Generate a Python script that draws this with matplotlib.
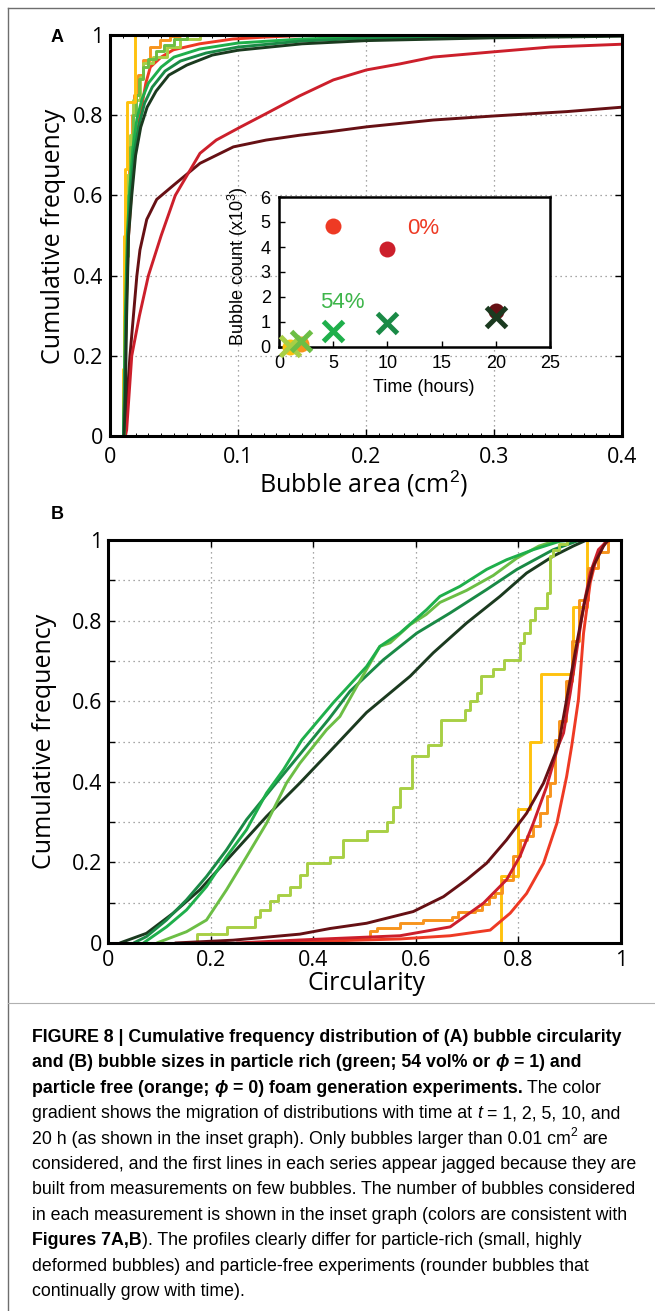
import matplotlib
matplotlib.use('Agg')
import matplotlib.pyplot as plt
from matplotlib.lines import Line2D
from matplotlib import font_manager

# ---------------- data ----------------
free_colors = ['#FFC20E', '#F7941D', '#EE3A24', '#CC1F2B', '#661014']   # 0 %: t = 1, 2, 5, 10, 20 h
rich_colors = ['#A8CF45', '#6CBE45', '#1FAF4B', '#1A8A46', '#1B3A1F']   # 54 %: t = 1, 2, 5, 10, 20 h

# Panel A : bubble area (cm2) -> cumulative frequency
A_free_t1_x = [0.0102, 0.0102, 0.0108, 0.0113, 0.0118, 0.0131, 0.0195]
A_free_t1_y = [0.0, 0.167, 0.333, 0.5, 0.667, 0.833, 1.0]
A_free_t2_x = [0.0105, 0.011, 0.012, 0.0135, 0.015, 0.017, 0.019, 0.022, 0.026, 0.031, 0.039, 0.047, 0.055]
A_free_t2_y = [0.0, 0.2, 0.45, 0.62, 0.72, 0.8, 0.85, 0.9, 0.938, 0.971, 0.988, 0.997, 1.0]
A_free_t5_x = [0.0105, 0.0115, 0.013, 0.0145, 0.017, 0.02, 0.023, 0.028, 0.0315, 0.04, 0.0495, 0.07, 0.096, 0.122, 0.16]
A_free_t5_y = [0.0, 0.15, 0.35, 0.5, 0.62, 0.72, 0.79, 0.88, 0.92, 0.945, 0.963, 0.978, 0.99, 0.995, 1.0]
A_free_t10_x = [0.012, 0.013, 0.017, 0.023, 0.030, 0.040, 0.051, 0.0703, 0.083, 0.1016, 0.122, 0.148, 0.1745,
                0.2005, 0.2266, 0.2526, 0.2995, 0.344, 0.40]
A_free_t10_y = [0.0, 0.015, 0.2, 0.3, 0.4, 0.5, 0.6, 0.705, 0.738, 0.77, 0.804, 0.848, 0.888,
                0.913, 0.928, 0.945, 0.958, 0.97, 0.977]
A_free_t20_x = [0.011, 0.0117, 0.0156, 0.021, 0.0234, 0.0287, 0.0365, 0.0495, 0.0703, 0.0964, 0.122, 0.148,
                0.172, 0.2005, 0.2526, 0.2995, 0.357, 0.40]
A_free_t20_y = [0.0, 0.015, 0.2, 0.4, 0.464, 0.54, 0.59, 0.625, 0.68, 0.721, 0.738, 0.75,
                0.759, 0.771, 0.788, 0.798, 0.809, 0.82]
A_rich_t1_x = [0.0102, 0.0105, 0.011, 0.012, 0.0135, 0.0155, 0.0182, 0.0234, 0.026, 0.0339, 0.0443, 0.0547, 0.0703]
A_rich_t1_y = [0.0, 0.1, 0.3, 0.5, 0.65, 0.75, 0.838, 0.896, 0.929, 0.946, 0.971, 0.989, 1.0]
A_rich_t2_x = [0.0105, 0.011, 0.0115, 0.0125, 0.014, 0.016, 0.018, 0.020, 0.023, 0.026, 0.030, 0.036, 0.042, 0.05, 0.06]
A_rich_t2_y = [0.0, 0.15, 0.3, 0.45, 0.6, 0.72, 0.8, 0.85, 0.89, 0.92, 0.94, 0.96, 0.975, 0.99, 1.0]
A_rich_t5_x = [0.0105, 0.011, 0.012, 0.0135, 0.0155, 0.018, 0.021, 0.025, 0.03, 0.04, 0.05, 0.07, 0.1, 0.15, 0.2, 0.3, 0.35]
A_rich_t5_y = [0.0, 0.1, 0.3, 0.5, 0.62, 0.72, 0.79, 0.84, 0.88, 0.92, 0.945, 0.965, 0.98, 0.99, 0.995, 0.999, 1.0]
A_rich_t10_x = [0.0105, 0.0115, 0.0125, 0.014, 0.0165, 0.019, 0.023, 0.027, 0.033, 0.043, 0.055, 0.075, 0.1, 0.15, 0.2, 0.3, 0.4]
A_rich_t10_y = [0.0, 0.1, 0.3, 0.5, 0.62, 0.71, 0.78, 0.83, 0.87, 0.91, 0.935, 0.955, 0.97, 0.985, 0.992, 0.997, 1.0]
A_rich_t20_x = [0.011, 0.012, 0.013, 0.0145, 0.017, 0.02, 0.024, 0.029, 0.036, 0.046, 0.06, 0.08, 0.1, 0.15, 0.2, 0.3, 0.4]
A_rich_t20_y = [0.0, 0.1, 0.3, 0.5, 0.6, 0.7, 0.77, 0.82, 0.86, 0.9, 0.925, 0.95, 0.962, 0.978, 0.986, 0.993, 0.997]

# Panel B : circularity -> cumulative frequency
B_free_t1_x = [0.767, 0.767, 0.800, 0.823, 0.845, 0.906, 0.933]
B_free_t1_y = [0.0, 0.167, 0.333, 0.5, 0.667, 0.833, 1.0]
B_free_t2_x = [0.40, 0.452, 0.504, 0.511, 0.524, 0.569, 0.615, 0.670, 0.683, 0.716, 0.729, 0.742, 0.754, 0.768,
               0.790, 0.803, 0.816, 0.829, 0.842, 0.855, 0.862, 0.872, 0.88, 0.893, 0.905, 0.918, 0.935, 0.955, 0.975]
B_free_t2_y = [0.0, 0.009, 0.016, 0.029, 0.037, 0.050, 0.058, 0.065, 0.077, 0.082, 0.098, 0.115, 0.124, 0.157,
               0.215, 0.256, 0.265, 0.29, 0.323, 0.364, 0.397, 0.504, 0.55, 0.65, 0.75, 0.85, 0.93, 0.97, 1.0]
B_free_t5_x = [0.30, 0.374, 0.569, 0.667, 0.745, 0.784, 0.816, 0.849, 0.875, 0.894, 0.904, 0.917, 0.927, 0.94, 0.953, 0.969, 0.98]
B_free_t5_y = [0.0, 0.003, 0.01, 0.018, 0.032, 0.074, 0.123, 0.198, 0.297, 0.413, 0.49, 0.604, 0.769, 0.894, 0.96, 0.993, 1.0]
B_free_t10_x = [0.25, 0.374, 0.569, 0.667, 0.732, 0.777, 0.803, 0.829, 0.855, 0.878, 0.888, 0.901, 0.914, 0.927, 0.94, 0.956, 0.975]
B_free_t10_y = [0.0, 0.0075, 0.018, 0.04, 0.099, 0.157, 0.215, 0.297, 0.388, 0.49, 0.521, 0.62, 0.728, 0.836, 0.918, 0.976, 1.0]
B_free_t20_x = [0.13, 0.244, 0.374, 0.433, 0.504, 0.595, 0.654, 0.699, 0.738, 0.777, 0.816, 0.849, 0.878, 0.894,
                0.914, 0.930, 0.946, 0.966, 0.975]
B_free_t20_y = [0.0, 0.007, 0.022, 0.036, 0.049, 0.078, 0.115, 0.157, 0.198, 0.256, 0.322, 0.397, 0.49, 0.604,
                0.745, 0.852, 0.935, 0.985, 1.0]
B_rich_t1_x = [0.173, 0.173, 0.231, 0.287, 0.297, 0.316, 0.332, 0.355, 0.374, 0.387, 0.433, 0.459, 0.504, 0.543,
               0.556, 0.569, 0.592, 0.624, 0.650, 0.696, 0.706, 0.72, 0.728, 0.751, 0.771, 0.803, 0.81, 0.823,
               0.832, 0.855, 0.862, 0.868, 0.88, 0.895]
B_rich_t1_y = [0.0, 0.0216, 0.0406, 0.065, 0.082, 0.103, 0.119, 0.14, 0.169, 0.198, 0.214, 0.256, 0.277, 0.301,
               0.338, 0.384, 0.463, 0.492, 0.554, 0.579, 0.60, 0.62, 0.662, 0.681, 0.703, 0.745, 0.769, 0.802,
               0.831, 0.869, 0.96, 0.976, 0.99, 1.0]
B_rich_t2_x = [0.095, 0.153, 0.192, 0.231, 0.270, 0.309, 0.348, 0.374, 0.426, 0.452, 0.485, 0.530, 0.55, 0.589,
               0.62, 0.647, 0.699, 0.751, 0.797, 0.84, 0.87, 0.89]
B_rich_t2_y = [0.0, 0.028, 0.057, 0.132, 0.214, 0.297, 0.397, 0.446, 0.529, 0.562, 0.637, 0.736, 0.745, 0.79,
               0.815, 0.845, 0.875, 0.912, 0.955, 0.985, 0.997, 1.0]
B_rich_t5_x = [0.069, 0.114, 0.153, 0.192, 0.231, 0.270, 0.309, 0.342, 0.378, 0.439, 0.504, 0.530, 0.569, 0.621,
               0.647, 0.686, 0.738, 0.777, 0.829, 0.881, 0.91]
B_rich_t5_y = [0.0, 0.040, 0.082, 0.140, 0.214, 0.281, 0.372, 0.430, 0.504, 0.596, 0.686, 0.736, 0.769, 0.827,
               0.860, 0.885, 0.927, 0.951, 0.976, 0.997, 1.0]
B_rich_t10_x = [0.05, 0.075, 0.114, 0.153, 0.192, 0.231, 0.270, 0.322, 0.374, 0.430, 0.472, 0.537, 0.602, 0.667,
                0.738, 0.797, 0.868, 0.92]
B_rich_t10_y = [0.0, 0.016, 0.057, 0.107, 0.165, 0.231, 0.306, 0.388, 0.468, 0.555, 0.625, 0.703, 0.769, 0.819,
                0.877, 0.927, 0.976, 1.0]
B_rich_t20_x = [0.023, 0.075, 0.127, 0.179, 0.244, 0.309, 0.374, 0.433, 0.504, 0.589, 0.634, 0.699, 0.764,
                0.816, 0.868, 0.907, 0.933]
B_rich_t20_y = [0.0, 0.024, 0.074, 0.132, 0.223, 0.314, 0.397, 0.476, 0.572, 0.662, 0.72, 0.794, 0.86,
                0.918, 0.96, 0.985, 1.0]

# Inset : bubble count (x10^3) vs time (hours)
inset_time = [1, 2, 5, 10, 20]
inset_count_free = [0.006, 0.10, 4.85, 3.90, 1.45]
inset_count_rich = [0.05, 0.22, 0.65, 0.97, 1.20]

A_xticks = [0, 0.1, 0.2, 0.3, 0.4]
A_xticklabels = ['0', '0.1', '0.2', '0.3', '0.4']
A_yticks = [0, 0.2, 0.4, 0.6, 0.8, 1.0]
A_yticklabels = ['0', '0.2', '0.4', '0.6', '0.8', '1']
B_xticks = [0, 0.2, 0.4, 0.6, 0.8, 1.0]
B_xticklabels = ['0', '0.2', '0.4', '0.6', '0.8', '1']
B_yticks = [0, 0.2, 0.4, 0.6, 0.8, 1.0]
B_yticklabels = ['0', '0.2', '0.4', '0.6', '0.8', '1']
B_yminor = [0.1, 0.3, 0.5, 0.7, 0.9]
inset_xticks = [0, 5, 10, 15, 20, 25]
inset_yticks = [0, 1, 2, 3, 4, 5, 6]

caption_lines = [
    [("FIGURE 8 | Cumulative frequency distribution of (A) bubble circularity", 'b')],
    [("and (B) bubble sizes in particle rich (green; 54 vol% or ", 'b'), ("ϕ", 'bi'), (" = 1) and", 'b')],
    [("particle free (orange; ", 'b'), ("ϕ", 'bi'), (" = 0) foam generation experiments.", 'b'), (" The color", 'r')],
    [("gradient shows the migration of distributions with time at ", 'r'), ("t", 'i'), (" = 1, 2, 5, 10, and", 'r')],
    [("20 h (as shown in the inset graph). Only bubbles larger than 0.01 cm", 'r'), ("2", 's'), (" are", 'r')],
    [("considered, and the first lines in each series appear jagged because they are", 'r')],
    [("built from measurements on few bubbles. The number of bubbles considered", 'r')],
    [("in each measurement is shown in the inset graph (colors are consistent with", 'r')],
    [("Figures 7A,B", 'b'), ("). The profiles clearly differ for particle-rich (small, highly", 'r')],
    [("deformed bubbles) and particle-free experiments (rounder bubbles that", 'r')],
    [("continually grow with time).", 'r')],
]

# ---------------- style ----------------
W, H, DPI = 655, 1311, 100
avail = {f.name for f in font_manager.fontManager.ttflist}
AXF = 'Open Sans' if 'Open Sans' in avail else 'DejaVu Sans'
INF = 'Liberation Sans' if 'Liberation Sans' in avail else 'DejaVu Sans'
CAPF = 'Liberation Sans Narrow' if 'Liberation Sans Narrow' in avail else INF
plt.rcParams['font.family'] = [AXF, 'DejaVu Sans']
plt.rcParams['mathtext.fontset'] = 'custom'
plt.rcParams['mathtext.rm'] = INF
plt.rcParams['mathtext.it'] = INF + ':italic'

fig = plt.figure(figsize=(W / DPI, H / DPI), dpi=DPI)
fig.patch.set_facecolor('white')
renderer = fig.canvas.get_renderer()


def rect(l, t, r, b):
    return [l / W, 1 - b / H, (r - l) / W, (b - t) / H]


def style_axes(ax, lw=2.2):
    for s in ax.spines.values():
        s.set_linewidth(lw)
        s.set_color('black')


grid_kw = dict(color='#8a8a8a', linestyle=(0, (1, 3)), linewidth=0.9)
LW = 2.1

# ---------------- Panel A ----------------
axA = fig.add_axes(rect(110, 35, 622, 436))
style_axes(axA)
axA.set_xlim(0, 0.4)
axA.set_ylim(0, 1)
axA.set_xticks(A_xticks)
axA.set_xticklabels(A_xticklabels)
axA.set_yticks(A_yticks)
axA.set_yticklabels(A_yticklabels)
axA.set_xticks([i / 100 for i in range(41)], minor=True)
axA.tick_params(which='major', direction='in', length=5, width=1, top=True, right=True, labelsize=15.5)
axA.tick_params(which='minor', direction='in', length=2.5, width=0.7, top=True, right=False)
axA.tick_params(axis='x', pad=8)
axA.tick_params(axis='y', pad=5)
axA.grid(True, which='major', **grid_kw)
for lab in axA.get_xticklabels() + axA.get_yticklabels():
    lab.set_family([AXF, 'DejaVu Sans'])

A_series = [
    (A_free_t20_x, A_free_t20_y, free_colors[4], False),
    (A_free_t10_x, A_free_t10_y, free_colors[3], False),
    (A_free_t5_x, A_free_t5_y, free_colors[2], False),
    (A_free_t2_x, A_free_t2_y, free_colors[1], True),
    (A_rich_t1_x, A_rich_t1_y, rich_colors[0], True),
    (A_rich_t2_x, A_rich_t2_y, rich_colors[1], True),
    (A_free_t1_x, A_free_t1_y, free_colors[0], True),
    (A_rich_t5_x, A_rich_t5_y, rich_colors[2], False),
    (A_rich_t10_x, A_rich_t10_y, rich_colors[3], False),
    (A_rich_t20_x, A_rich_t20_y, rich_colors[4], False),
]
for xs, ys, c, st in A_series:
    axA.plot(xs, ys, color=c, lw=LW, drawstyle='steps-post' if st else 'default',
             solid_joinstyle='round', solid_capstyle='butt', clip_on=True)

# Inset
axI = fig.add_axes(rect(279, 197, 550, 347))
axI.set_facecolor('white')
style_axes(axI, lw=1.8)
axI.set_xlim(0, 25)
axI.set_ylim(0, 6)
axI.set_xticks(inset_xticks)
axI.set_yticks(inset_yticks)
axI.tick_params(direction='in', length=4, width=1, labelsize=13, pad=6, top=False, right=False)
for lab in axI.get_xticklabels() + axI.get_yticklabels():
    lab.set_family([INF, 'DejaVu Sans'])
for t, v, c in zip(inset_time, inset_count_free, free_colors):
    axI.plot([t], [v], 'o', color=c, markersize=11.5, markeredgewidth=0, clip_on=False, zorder=3)
for t, v, c in zip(inset_time, inset_count_rich, rich_colors):
    axI.plot([t], [v], 'x', color=c, markersize=14, markeredgewidth=3.6, clip_on=False, zorder=4)
axI.text(13.3, 4.76, '0%', color='#EE3A24', fontsize=16, family=INF, ha='center', va='center')
axI.text(5.8, 1.76, '54%', color='#3DB54A', fontsize=16, family=INF, ha='center', va='center')
fig.text(424 / W, 1 - 387 / H, 'Time (hours)', fontsize=13, family=INF, ha='center', va='center')
fig.text(238 / W, 1 - 266 / H, 'Bubble count (x10$^3$)', fontsize=13, family=INF, ha='center', va='center',
         rotation=90)

# Panel A labels
fig.text(57 / W, 1 - 38 / H, 'A', fontsize=13, fontweight='bold', family=INF, ha='center', va='center')
fig.text(53 / W, 1 - 236 / H, 'Cumulative frequency', fontsize=18, family=AXF, ha='center', va='center', rotation=90)
fig.text(364 / W, 1 - 484 / H, 'Bubble area (cm$^2$)', fontsize=18, family=AXF, ha='center', va='center')

# ---------------- Panel B ----------------
axB = fig.add_axes(rect(108, 540, 621, 943))
style_axes(axB)
axB.set_xlim(0, 1)
axB.set_ylim(0, 1)
axB.set_xticks(B_xticks)
axB.set_xticklabels(B_xticklabels)
axB.set_yticks(B_yticks)
axB.set_yticklabels(B_yticklabels)
axB.set_yticks(B_yminor, minor=True)
axB.tick_params(which='both', direction='in', length=5, width=1, top=True, right=True, labelsize=15.5)
axB.tick_params(axis='x', pad=5)
axB.tick_params(axis='y', pad=4)
axB.grid(True, which='major', **grid_kw)
axB.grid(True, which='minor', axis='y', **grid_kw)
for lab in axB.get_xticklabels() + axB.get_yticklabels():
    lab.set_family([AXF, 'DejaVu Sans'])

B_series = [
    (B_rich_t20_x, B_rich_t20_y, rich_colors[4], False),
    (B_rich_t10_x, B_rich_t10_y, rich_colors[3], False),
    (B_rich_t2_x, B_rich_t2_y, rich_colors[1], False),
    (B_rich_t5_x, B_rich_t5_y, rich_colors[2], False),
    (B_rich_t1_x, B_rich_t1_y, rich_colors[0], True),
    (B_free_t1_x, B_free_t1_y, free_colors[0], True),
    (B_free_t2_x, B_free_t2_y, free_colors[1], True),
    (B_free_t5_x, B_free_t5_y, free_colors[2], False),
    (B_free_t10_x, B_free_t10_y, free_colors[3], False),
    (B_free_t20_x, B_free_t20_y, free_colors[4], False),
]
for xs, ys, c, st in B_series:
    axB.plot(xs, ys, color=c, lw=LW, drawstyle='steps-post' if st else 'default',
             solid_joinstyle='round', solid_capstyle='butt')

fig.text(57 / W, 1 - 515 / H, 'B', fontsize=13, fontweight='bold', family=INF, ha='center', va='center')
fig.text(45 / W, 1 - 741 / H, 'Cumulative frequency', fontsize=18, family=AXF, ha='center', va='center', rotation=90)
fig.text(367 / W, 1 - 984 / H, 'Circularity', fontsize=18, family=AXF, ha='center', va='center')

# ---------------- frame ----------------
frame_c = '#6e6e6e'
fig.add_artist(Line2D([8 / W, 1], [1 - 8 / H, 1 - 8 / H], transform=fig.transFigure, color=frame_c, lw=1.0))
fig.add_artist(Line2D([8 / W, 8 / W], [0, 1 - 8 / H], transform=fig.transFigure, color=frame_c, lw=1.0))
fig.add_artist(Line2D([8 / W, 1], [1 - 1003 / H, 1 - 1003 / H], transform=fig.transFigure, color='#b0b0b0', lw=0.8))

# ---------------- caption ----------------
def seg_kw(style, size):
    kw = dict(family=[CAPF, 'DejaVu Sans'], fontsize=size,
              fontweight='bold' if 'b' in style else 'normal',
              fontstyle='italic' if 'i' in style else 'normal')
    if 's' in style:
        kw['fontsize'] = size * 0.68
    return kw


def width_of(s, kw):
    t = fig.text(0, 0, s, **kw)
    w = t.get_window_extent(renderer).width
    t.remove()
    return w


def space_w(kw):
    return width_of('a a', kw) - width_of('aa', kw)


def draw_line(segs, x0, base, size, draw=True):
    x = x0
    for s, style in segs:
        kw = seg_kw(style, size)
        sp = space_w(kw)
        lead = len(s) - len(s.lstrip(' '))
        trail = len(s) - len(s.rstrip(' '))
        core = s.strip(' ')
        x += lead * sp
        dy = size * 0.45 * DPI / 72 if 's' in style else 0
        if draw:
            t = fig.text(x / W, 1 - (base - dy) / H, core, ha='left', va='baseline', **kw)
            w = t.get_window_extent(renderer).width
        else:
            w = width_of(core, kw)
        x += w + trail * sp
    return x - x0


ref_size = 13.0
wref = draw_line(caption_lines[3], 0, 0, ref_size, draw=False)
cap_size = ref_size * 590.0 / wref
for i, segs in enumerate(caption_lines):
    yc = 1036 + 25.4 * i
    draw_line(segs, 32, yc + 6, cap_size)

fig.savefig('out.png', dpi=DPI, facecolor='white')
